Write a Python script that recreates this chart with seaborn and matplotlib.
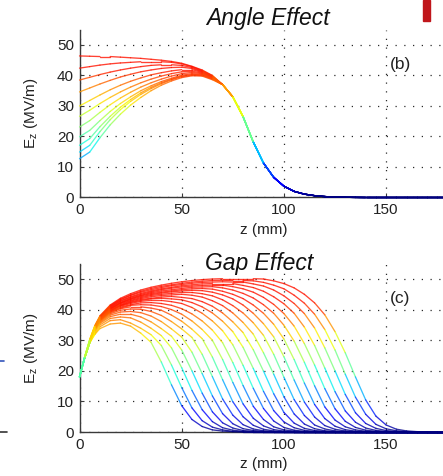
import numpy as np
import matplotlib
matplotlib.use("Agg")
import matplotlib.pyplot as plt
import seaborn as sns
from matplotlib.collections import LineCollection
from matplotlib.colors import ListedColormap, Normalize
from matplotlib.patches import Rectangle
from matplotlib.lines import Line2D

# ---- data (z in mm, Ez in MV/m) ----

# (b) Angle Effect: 11 curves, each one differs up to z = 65 mm, then they share one tail
angle_z = [0, 5, 10, 15, 20, 25, 30, 35, 40, 45, 50, 55, 60, 65,
           70, 75, 80, 85, 90, 95, 100, 105, 110, 115, 120, 125, 130, 135,
           140, 145, 150, 155, 160, 165, 170, 175, 180]
angle_head = [
    [46.4, 46.3, 46.2, 46.2, 46.0, 45.8, 45.6, 45.3, 45.0, 44.6, 44.0, 43.0, 41.8, 40.0],
    [42.4, 42.9, 43.4, 43.8, 44.1, 44.3, 44.5, 44.5, 44.5, 44.3, 43.8, 42.9, 41.6, 39.9],
    [38.5, 39.4, 40.3, 41.1, 41.8, 42.4, 42.9, 43.3, 43.5, 43.5, 43.3, 42.6, 41.4, 39.8],
    [34.6, 35.9, 37.2, 38.4, 39.5, 40.4, 41.2, 41.8, 42.3, 42.6, 42.7, 42.3, 41.2, 39.6],
    [30.0, 31.8, 33.6, 35.3, 36.8, 38.1, 39.2, 40.2, 40.9, 41.5, 41.9, 41.9, 41.0, 39.5],
    [26.6, 28.6, 30.8, 32.8, 34.6, 36.2, 37.6, 38.8, 39.8, 40.6, 41.2, 41.4, 40.8, 39.4],
    [23.1, 25.2, 27.9, 30.4, 32.6, 34.5, 36.2, 37.6, 38.8, 39.8, 40.6, 41.0, 40.6, 39.2],
    [19.9, 22.0, 25.2, 28.2, 30.8, 33.0, 35.0, 36.6, 38.0, 39.1, 40.1, 40.6, 40.4, 39.0],
    [17.1, 19.3, 23.2, 26.6, 29.6, 32.1, 34.3, 36.1, 37.6, 38.8, 39.8, 40.3, 40.2, 38.9],
    [14.9, 17.1, 21.6, 25.5, 28.8, 31.5, 33.8, 35.7, 37.3, 38.6, 39.6, 40.1, 40.0, 38.8],
    [12.7, 14.9, 19.6, 23.8, 27.3, 30.3, 32.8, 35.0, 36.8, 38.2, 39.3, 39.9, 39.8, 38.6],
]
angle_tail = [37.0, 33.0, 26.5, 18.2, 11.3, 6.6, 3.7, 2.0, 1.1, 0.6, 0.3, 0.15, 0.07, 0.03,
              0, 0, 0, 0, 0, 0, 0, 0, 0]

# (c) Gap Effect: 22 curves
gap_z = [0, 2.5, 5, 7.5, 10, 15, 20, 25, 30, 35, 40, 45, 50, 55, 60, 65, 70, 75, 80,
         85, 90, 95, 100, 105, 110, 115, 120, 125, 130, 135, 140, 145, 150, 155, 160,
         165, 170, 175, 180]
gap_ez = [
    [18.0, 24.1, 29.2, 31.9, 33.8, 35.3, 35.6, 34.6, 32.3, 29.3, 22.9, 15.4, 8.6, 4.1, 1.8, 0.7, 0.3, 0.1,
     0, 0, 0, 0, 0, 0, 0, 0, 0, 0, 0, 0, 0, 0, 0, 0, 0, 0, 0, 0, 0],
    [18.0, 24.1, 29.2, 32.0, 34.4, 36.4, 36.7, 35.6, 33.9, 31.8, 28.3, 21.9, 14.5, 7.9, 3.7, 1.6, 0.7, 0.2, 0.1,
     0, 0, 0, 0, 0, 0, 0, 0, 0, 0, 0, 0, 0, 0, 0, 0, 0, 0, 0, 0],
    [18.0, 24.1, 29.2, 32.5, 35.0, 37.1, 37.6, 37.3, 35.9, 33.9, 31.5, 27.5, 21.0, 13.6, 7.3, 3.4, 1.4, 0.6, 0.2, 0.1,
     0, 0, 0, 0, 0, 0, 0, 0, 0, 0, 0, 0, 0, 0, 0, 0, 0, 0, 0],
    [18.0, 24.1, 29.2, 33.0, 35.5, 37.7, 38.5, 38.5, 37.6, 36.0, 33.8, 31.3, 26.8, 20.0, 12.7, 6.6, 3.0, 1.3, 0.5, 0.2, 0.1,
     0, 0, 0, 0, 0, 0, 0, 0, 0, 0, 0, 0, 0, 0, 0, 0, 0, 0],
    [18.0, 24.1, 29.2, 33.2, 35.8, 38.2, 39.2, 39.4, 39.0, 37.9, 36.1, 33.7, 31.0, 26.1, 19.1, 11.8, 6.0, 2.7, 1.1, 0.5, 0.2, 0.1,
     0, 0, 0, 0, 0, 0, 0, 0, 0, 0, 0, 0, 0, 0, 0, 0, 0],
    [18.0, 24.1, 29.2, 33.4, 36.1, 38.6, 39.8, 40.2, 40.1, 39.4, 38.1, 36.1, 33.7, 30.9, 25.4, 18.1, 10.8, 5.5, 2.4, 1.0, 0.4, 0.15, 0.04,
     0, 0, 0, 0, 0, 0, 0, 0, 0, 0, 0, 0, 0, 0, 0, 0],
    [18.0, 24.1, 29.2, 33.7, 36.3, 38.9, 40.3, 40.9, 40.9, 40.5, 39.8, 38.2, 36.2, 33.6, 30.5, 24.5, 17.1, 9.9, 5.0, 2.2, 0.9, 0.35, 0.12,
     0, 0, 0, 0, 0, 0, 0, 0, 0, 0, 0, 0, 0, 0, 0, 0],
    [18.0, 24.2, 29.2, 33.8, 36.5, 39.2, 40.5, 41.4, 41.6, 41.5, 41.0, 40.0, 38.5, 36.3, 33.5, 30.0, 23.7, 16.2, 9.2, 4.5, 2.0, 0.8, 0.3, 0.1,
     0, 0, 0, 0, 0, 0, 0, 0, 0, 0, 0, 0, 0, 0, 0],
    [18.0, 24.2, 29.2, 33.8, 36.6, 39.3, 40.8, 41.6, 42.2, 42.3, 42.0, 41.4, 40.3, 38.6, 36.3, 33.3, 29.2, 22.7, 15.2, 8.4, 4.1, 1.7, 0.7, 0.3, 0.1,
     0, 0, 0, 0, 0, 0, 0, 0, 0, 0, 0, 0, 0, 0],
    [18.0, 24.2, 29.3, 33.9, 36.7, 39.5, 41.1, 42.0, 42.7, 43.0, 43.0, 42.6, 42.0, 40.7, 38.8, 36.3, 33.1, 28.5, 21.8, 14.3, 7.7, 3.6, 1.5, 0.6, 0.2, 0.1,
     0, 0, 0, 0, 0, 0, 0, 0, 0, 0, 0, 0, 0],
    [18.0, 24.2, 29.3, 33.9, 36.7, 39.6, 41.3, 42.3, 43.0, 43.5, 43.7, 43.5, 43.2, 42.3, 40.9, 38.9, 36.2, 32.8, 27.7, 20.8, 13.3, 7.0, 3.3, 1.4, 0.55, 0.2, 0.1,
     0, 0, 0, 0, 0, 0, 0, 0, 0, 0, 0, 0],
    [18.0, 24.3, 29.4, 34.0, 36.9, 39.7, 41.4, 42.5, 43.3, 43.7, 44.1, 44.3, 44.0, 43.6, 42.6, 41.1, 38.9, 36.0, 32.5, 26.9, 19.9, 12.5, 6.4, 2.9, 1.2, 0.5, 0.2, 0.05,
     0, 0, 0, 0, 0, 0, 0, 0, 0, 0, 0],
    [18.0, 24.3, 29.4, 34.1, 37.0, 39.9, 41.6, 42.8, 43.6, 44.2, 44.6, 44.8, 45.0, 44.7, 44.1, 42.9, 41.3, 38.9, 35.8, 32.0, 25.9, 18.9, 11.5, 5.9, 2.6, 1.1, 0.4, 0.16, 0.05,
     0, 0, 0, 0, 0, 0, 0, 0, 0, 0],
    [18.0, 24.3, 29.6, 34.2, 37.1, 40.1, 41.9, 43.0, 43.9, 44.6, 45.0, 45.3, 45.6, 45.6, 45.2, 44.5, 43.2, 41.3, 38.9, 35.7, 31.6, 25.4, 17.9, 10.6, 5.4, 2.3, 1.0, 0.37, 0.14, 0.04,
     0, 0, 0, 0, 0, 0, 0, 0, 0],
    [18.0, 24.3, 29.6, 34.2, 37.2, 40.2, 42.1, 43.3, 44.2, 44.9, 45.4, 45.8, 46.1, 46.3, 46.2, 45.7, 44.8, 43.5, 41.5, 38.8, 35.4, 31.1, 24.6, 17.0, 9.8, 4.9, 2.1, 0.9, 0.34, 0.11,
     0, 0, 0, 0, 0, 0, 0, 0, 0],
    [18.0, 24.4, 29.7, 34.3, 37.2, 40.3, 42.2, 43.5, 44.5, 45.2, 45.7, 46.1, 46.5, 46.8, 46.9, 46.7, 46.0, 45.0, 43.6, 41.5, 38.8, 35.2, 30.4, 23.7, 16.0, 9.0, 4.4, 1.9, 0.76, 0.29, 0.1,
     0, 0, 0, 0, 0, 0, 0, 0],
    [18.0, 24.4, 29.8, 34.3, 37.3, 40.5, 42.4, 43.7, 44.7, 45.5, 46.1, 46.5, 46.9, 47.3, 47.4, 47.5, 47.1, 46.4, 45.3, 43.8, 41.6, 38.8, 34.9, 29.7, 22.8, 15.1, 8.2, 3.9, 1.7, 0.7, 0.25, 0.08,
     0, 0, 0, 0, 0, 0, 0],
    [18.0, 24.4, 29.9, 34.4, 37.5, 40.7, 42.7, 44.0, 45.0, 45.8, 46.5, 47.0, 47.4, 47.7, 47.9, 48.0, 48.0, 47.5, 46.8, 45.7, 44.0, 41.7, 38.7, 34.6, 28.9, 21.9, 14.2, 7.6, 3.5, 1.5, 0.6, 0.23, 0.07,
     0, 0, 0, 0, 0, 0],
    [18.0, 24.4, 30.0, 34.5, 37.6, 40.9, 42.9, 44.2, 45.3, 46.1, 46.8, 47.3, 47.8, 48.1, 48.4, 48.5, 48.5, 48.5, 47.9, 47.2, 46.0, 44.2, 41.9, 38.8, 34.3, 28.3, 20.9, 13.2, 6.9, 3.2, 1.3, 0.53, 0.2, 0.06,
     0, 0, 0, 0, 0],
    [18.0, 24.5, 30.1, 34.6, 37.7, 41.1, 43.2, 44.6, 45.7, 46.5, 47.2, 47.8, 48.2, 48.6, 48.9, 49.0, 49.1, 49.0, 49.0, 48.4, 47.7, 46.4, 44.5, 42.0, 38.7, 34.0, 27.5, 20.0, 12.3, 6.3, 2.8, 1.2, 0.47, 0.18, 0.05,
     0, 0, 0, 0],
    [18.0, 24.5, 30.2, 34.7, 37.8, 41.3, 43.4, 44.8, 46.0, 46.9, 47.6, 48.1, 48.6, 49.0, 49.3, 49.5, 49.6, 49.5, 49.5, 49.4, 48.9, 48.0, 46.8, 44.7, 42.1, 38.5, 33.5, 26.8, 18.9, 11.4, 5.8, 2.5, 1.05, 0.41, 0.15, 0.04,
     0, 0, 0],
    [18.0, 24.5, 30.3, 34.8, 38.0, 41.5, 43.7, 45.2, 46.4, 47.3, 48.0, 48.6, 49.1, 49.5, 49.8, 50.0, 50.1, 50.1, 50.1, 50.1, 50.0, 49.4, 48.5, 47.1, 45.0, 42.2, 38.3, 32.8, 25.9, 18.0, 10.5, 5.2, 2.3, 0.93, 0.36, 0.13, 0.04,
     0, 0],
]

assert all(len(h) + len(angle_tail) == len(angle_z) for h in angle_head)
assert all(len(r) == len(gap_z) for r in gap_ez)

# ---- style ----
sns.set_theme(style="ticks")
plt.rcParams["font.family"] = ["Liberation Sans", "DejaVu Sans"]
plt.rcParams["axes.facecolor"] = "white"

jet = matplotlib.colormaps["jet"]
field_cmap = ListedColormap(jet(np.linspace(0.0, 0.89, 256)))
field_norm = Normalize(vmin=0, vmax=42, clip=True)


def draw_curves(ax, z, rows):
    segs, vals = [], []
    for ez in rows:
        pts = np.column_stack([z, ez])
        segs.extend(np.stack([pts[:-1], pts[1:]], axis=1))
        ez = np.asarray(ez, dtype=float)
        vals.extend((ez[:-1] + ez[1:]) / 2)
    lc = LineCollection(segs, cmap=field_cmap, norm=field_norm, linewidths=0.95,
                        alpha=0.8, zorder=3)
    lc.set_array(np.asarray(vals))
    lc.set_capstyle("round")
    lc.set_clip_on(False)
    ax.add_collection(lc)


def style_axes(ax, tag):
    ax.set_xlim(0, 200)
    ax.set_ylim(0, 55)
    ax.set_xticks([0, 50, 100, 150])
    ax.set_yticks([0, 10, 20, 30, 40, 50])
    ax.grid(True, color="#2a2a2a", linestyle=(0, (1, 6)), linewidth=0.9)
    ax.set_axisbelow(True)
    sns.despine(ax=ax)
    for s in ("left", "bottom"):
        ax.spines[s].set_color("#3a3a3a")
        ax.spines[s].set_linewidth(1.0)
    ax.tick_params(direction="in", length=3, width=0.8, color="#3a3a3a",
                   labelsize=11, labelcolor="#222222", pad=4)
    ax.set_xlabel("z (mm)", fontsize=11, color="#222222")
    ax.set_ylabel(r"$\mathregular{E_z}$ (MV/m)", fontsize=11, color="#222222")
    ax.xaxis.set_label_coords(0.451, -0.15)
    ax.yaxis.set_label_coords(-0.097, 0.5)
    ax.text(152, 43.7, tag, fontsize=12.5, ha="left", va="center", color="#222222")


fig = plt.figure(figsize=(4.43, 4.76), dpi=100)
ax_top = fig.add_axes([0.1795, 0.5851, 0.9228, 0.3525])
ax_bot = fig.add_axes([0.1795, 0.0924, 0.9228, 0.3536])

angle_rows = [h + angle_tail for h in angle_head]
draw_curves(ax_top, angle_z, angle_rows)
draw_curves(ax_bot, gap_z, gap_ez)
style_axes(ax_top, "(b)")
style_axes(ax_bot, "(c)")

fig.text(267.5 / 443, 1 - 25 / 476, "Angle Effect", ha="center", va="baseline",
         fontsize=16.5, style="italic", color="#111111")
fig.text(259 / 443, 1 - 270 / 476, "Gap Effect", ha="center", va="baseline",
         fontsize=16.5, style="italic", color="#111111")

# bits of the surrounding slide that show at the edges
fig.patches.append(Rectangle((423 / 443, 1 - 20.5 / 476), 7 / 443, 20.5 / 476,
                             transform=fig.transFigure, color="#c0161b"))
fig.lines.append(Line2D([0, 3.5 / 443], [1 - 361 / 476] * 2, transform=fig.transFigure,
                        color="#3355bb", lw=1.2))
fig.lines.append(Line2D([0, 7 / 443], [1 - 432 / 476] * 2, transform=fig.transFigure,
                        color="#333333", lw=1.2))

fig.savefig("out.png", dpi=100)
